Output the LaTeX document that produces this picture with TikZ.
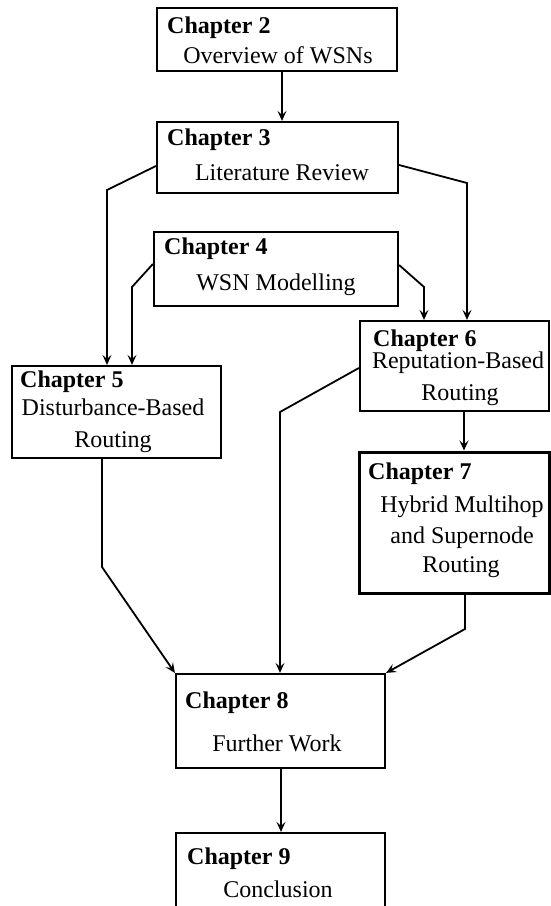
\documentclass[tikz,border=0pt]{standalone}
\usepackage{fontspec}
\setmainfont{Liberation Serif}
\usetikzlibrary{arrows.meta}
\begin{document}
\begin{tikzpicture}[x=1pt,y=-1pt,
  box/.style={draw, line width=2.2pt, rectangle, inner sep=0pt},
  heavybox/.style={box, line width=3pt},
  head/.style={inner sep=0pt, anchor=base west, font=\fontsize{24}{28}\selectfont\bfseries},
  desc/.style={inner sep=0pt, anchor=base, font=\fontsize{24}{28}\selectfont},
  arr/.style={line width=1.8pt, -{Stealth[length=10pt,width=9pt,inset=4pt]}},
  link/.style={line width=1.8pt}]
\useasboundingbox (0,0) rectangle (550,906);

% chapter boxes
\node[box, minimum width=240pt, minimum height=63pt] (c2) at (277,39.5) {};
\node[box, minimum width=241pt, minimum height=71pt] (c3) at (277.5,157.5) {};
\node[box, minimum width=244pt, minimum height=74pt] (c4) at (276,269) {};
\node[box, minimum width=209pt, minimum height=92pt] (c5) at (116.5,412) {};
\node[box, minimum width=189pt, minimum height=90pt] (c6) at (454.5,366) {};
\node[heavybox, minimum width=190pt, minimum height=141pt] (c7) at (454,522.5) {};
\node[box, minimum width=209pt, minimum height=94pt] (c8) at (280.5,721) {};
\node[box, minimum width=209pt, minimum height=79pt] (c9) at (280.5,872.5) {};

% titles and descriptions
\node[head] (h2) at (167,33) {Chapter 2};
\node[desc] (d2) at (278,63) {Overview of WSNs};
\node[head] (h3) at (167,145) {Chapter 3};
\node[desc] (d3) at (282,180) {Literature Review};
\node[head] (h4) at (164,254) {Chapter 4};
\node[desc] (d4) at (276,290) {WSN Modelling};
\node[head] (h5) at (20,387) {Chapter 5};
\node[desc] (d5a) at (113,415) {Disturbance-Based};
\node[desc] (d5b) at (113,447) {Routing};
\node[head] (h6) at (373,346) {Chapter 6};
\node[desc] (d6a) at (458,368) {Reputation-Based};
\node[desc] (d6b) at (460,400) {Routing};
\node[head] (h7) at (368,479) {Chapter 7};
\node[desc] (d7a) at (462,512) {Hybrid Multihop};
\node[desc] (d7b) at (462,543) {and Supernode};
\node[desc] (d7c) at (461,572) {Routing};
\node[head] (h8) at (185,708) {Chapter 8};
\node[desc] (d8) at (277,751) {Further Work};
\node[head] (h9) at (187,864) {Chapter 9};
\node[desc] (d9) at (278,897) {Conclusion};

% bend points
\coordinate (b35) at (107,190);
\coordinate (b45) at (132,287);
\coordinate (b36) at (467,183);
\coordinate (b46) at (424,287);
\coordinate (b68) at (280,412);
\coordinate (b58) at (102,567);
\coordinate (b78) at (465,629);

% connectors
\draw[arr] ([xshift=5pt]c2.south) -- ([xshift=4.5pt]c3.north);
\draw[arr] ([yshift=-8.5pt]c3.west) -- (b35) -- (b35 |- c5.north);
\draw[arr] ([yshift=5pt]c4.west) -- (b45) -- (b45 |- c5.north);
\draw[arr] ([yshift=-7.5pt]c3.east) -- (b36) -- (b36 |- c6.north);
\draw[arr] ([yshift=4pt]c4.east) -- (b46) -- (b46 |- c6.north);
\draw[arr] ([xshift=9.5pt]c6.south) -- ([xshift=10pt]c7.north);
\draw[arr] ([yshift=-2pt]c6.west) -- (b68) -- (b68 |- c8.north);
\draw[arr] (b58 |- c5.south) -- (b58) -- (c8.north west);
\draw[arr] (b78 |- c7.south) -- (b78) -- (c8.north east);
\draw[arr] ([xshift=0.5pt]c8.south) -- ([xshift=0.5pt]c9.north);
\end{tikzpicture}
\end{document}
